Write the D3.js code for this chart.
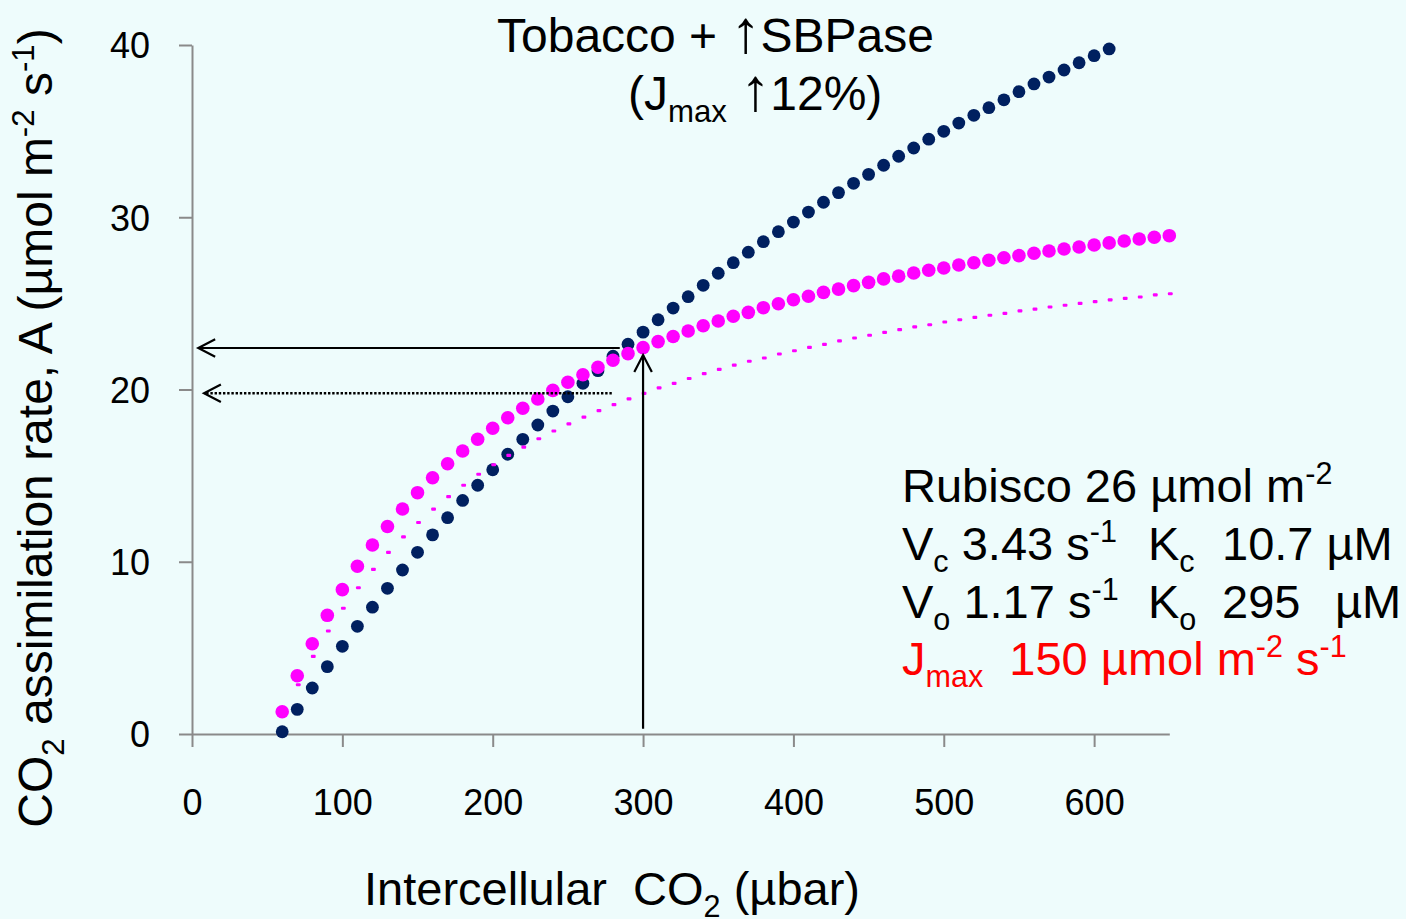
<!DOCTYPE html>
<html>
<head>
<meta charset="utf-8">
<script src="https://cdn.jsdelivr.net/npm/d3@7"></script>
<style>
  html, body { margin: 0; padding: 0; background: #eefcfc; }
  svg { display: block; }
  text { font-family: "Liberation Sans", Arial, sans-serif; white-space: pre; }
</style>
</head>
<body>
<svg id="chart" width="1406" height="919"></svg>
<script>
// ---------- DATA ----------
const ciNavy = [60,70,80,90,100,110,120,130,140,150,160,170,180,190,200,210,220,230,240,250,260,270,280,290,300,310,320,330,340,350,360,370,380,390,400,410,420,430,440,450,460,470,480,490,500,510,520,530,540,550,560,570,580,590,600,610];
const aNavy = [0.13,1.43,2.67,3.91,5.09,6.25,7.36,8.46,9.52,10.55,11.56,12.56,13.56,14.44,15.34,16.24,17.11,17.94,18.75,19.58,20.36,21.09,21.93,22.63,23.33,24.05,24.73,25.39,26.05,26.75,27.36,27.97,28.58,29.16,29.72,30.30,30.87,31.43,31.97,32.49,33.02,33.54,34.02,34.53,34.99,35.47,35.92,36.36,36.82,37.29,37.74,38.14,38.55,38.97,39.38,39.77];

const ciMagenta = [60,70,80,90,100,110,120,130,140,150,160,170,180,190,200,210,220,230,240,250,260,270,280,290,300,310,320,330,340,350,360,370,380,390,400,410,420,430,440,450,460,470,480,490,500,510,520,530,540,550,560,570,580,590,600,610,620,630,640,650];
const aMagenta = [1.29,3.38,5.24,6.89,8.38,9.74,10.97,12.05,13.06,14.01,14.88,15.69,16.43,17.11,17.75,18.36,18.91,19.45,19.95,20.42,20.86,21.29,21.70,22.08,22.43,22.78,23.08,23.40,23.70,23.98,24.25,24.48,24.75,24.98,25.21,25.41,25.64,25.83,26.03,26.22,26.42,26.58,26.76,26.92,27.05,27.23,27.36,27.50,27.65,27.77,27.91,28.04,28.16,28.27,28.39,28.51,28.62,28.74,28.84,28.93];

const ciBase = [70,80,90,100,110,120,130,140,150,160,170,180,190,200,210,220,230,240,250,260,270,280,290,300,310,320,330,340,350,360,370,380,390,400,410,420,430,440,450,460,470,480,490,500,510,520,530,540,550,560,570,580,590,600,610,620,630,640,650];
const aBase = [2.86,4.51,5.98,7.30,8.49,9.56,10.54,11.44,12.28,13.06,13.78,14.44,15.08,15.63,16.18,16.66,17.14,17.59,18.00,18.40,18.77,19.12,19.45,19.78,20.09,20.36,20.64,20.92,21.17,21.41,21.64,21.83,22.06,22.25,22.45,22.62,22.82,22.99,23.15,23.32,23.48,23.63,23.76,23.92,24.05,24.19,24.31,24.42,24.56,24.67,24.79,24.89,25.00,25.10,25.20,25.29,25.37,25.49,25.56];

const xTicks = [0,100,200,300,400,500,600];
const yTicks = [0,10,20,30,40];

// annotation arrows (data units): [x1,y1,x2(tip),y2(tip)]
const arrowSolidH = [284.5, 22.41, 4.2, 22.41];
const arrowDottedH = [279.2, 19.78, 8.0, 19.78];
const arrowVert = [300, 0.3, 300, 22.0];

// ---------- SETUP ----------
const svg = d3.select("#chart");
const W = 1406, H = 919;
svg.append("rect").attr("width", W).attr("height", H).attr("fill", "#eefcfc");

const x = d3.scaleLinear().domain([0, 650]).range([192, 1169.3]);
const y = d3.scaleLinear().domain([0, 40]).range([734, 45]);

const axisCol = "#8a8a8a";

// x axis
const gx = svg.append("g").attr("transform", `translate(0,${y(0)})`)
  .call(d3.axisBottom(x).tickValues(xTicks).tickSize(13).tickSizeOuter(0).tickFormat(d3.format("d")));
gx.select(".domain").attr("stroke", axisCol).attr("stroke-width", 2);
gx.selectAll(".tick line").attr("stroke", axisCol).attr("stroke-width", 2);
gx.selectAll(".tick text").attr("y", 81).attr("dy", 0).attr("font-size", 36)
  .attr("font-family", '"Liberation Sans", Arial, sans-serif').attr("fill", "#000");

// y axis
const gy = svg.append("g").attr("transform", `translate(${x(0)},0)`)
  .call(d3.axisLeft(y).tickValues(yTicks).tickSize(13).tickSizeOuter(0));
gy.select(".domain").attr("stroke", axisCol).attr("stroke-width", 2);
gy.selectAll(".tick line").attr("stroke", axisCol).attr("stroke-width", 2);
gy.selectAll(".tick text").attr("x", -42).attr("dy", "0.36em").attr("font-size", 36)
  .attr("font-family", '"Liberation Sans", Arial, sans-serif').attr("fill", "#000");

// ---------- SERIES ----------
const navy = "#002060", mag = "#ff00ff";
svg.append("g").selectAll("circle").data(ciNavy).join("circle")
  .attr("cx", (d) => x(d)).attr("cy", (d, i) => y(aNavy[i])).attr("r", 6.4).attr("fill", navy);
svg.append("g").selectAll("circle").data(ciMagenta).join("circle")
  .attr("cx", (d) => x(d)).attr("cy", (d, i) => y(aMagenta[i])).attr("r", 6.8).attr("fill", mag);
svg.append("g").selectAll("rect").data(ciBase).join("rect")
  .attr("x", (d) => x(d) + 1 - 2.4).attr("y", (d, i) => y(aBase[i]) - 1.6)
  .attr("width", 4.8).attr("height", 3.2).attr("rx", 1).attr("fill", mag);

// ---------- ARROWS ----------
function arrow(a, dashed) {
  const x1 = x(a[0]), y1 = y(a[1]), x2 = x(a[2]), y2 = y(a[3]);
  const g = svg.append("g").attr("stroke", "#000").attr("fill", "none");
  g.append("line").attr("x1", x1).attr("y1", y1).attr("x2", x2).attr("y2", y2)
    .attr("stroke-width", dashed ? 2.6 : 2.2)
    .attr("stroke-dasharray", dashed ? "2.4,1.8" : null);
  const ang = Math.atan2(y1 - y2, x1 - x2);
  const L = 19, spread = 0.48;
  const p1 = [x2 + L * Math.cos(ang + spread), y2 + L * Math.sin(ang + spread)];
  const p2 = [x2 + L * Math.cos(ang - spread), y2 + L * Math.sin(ang - spread)];
  g.append("path").attr("stroke-width", 2.2)
    .attr("d", `M${p1[0]},${p1[1]} L${x2},${y2} L${p2[0]},${p2[1]}`);
}
arrow(arrowSolidH, false);
arrow(arrowDottedH, true);
arrow(arrowVert, false);

// ---------- TEXT ----------
// rich text using relative dy shifts (keeps one anchored chunk)
function rich(parent, xp, yp, size, segs, color, anchor) {
  const t = parent.append("text").attr("x", xp).attr("y", yp).attr("font-size", size)
    .attr("fill", color || "#000").attr("text-anchor", anchor || "start");
  let off = 0;
  segs.forEach((s) => {
    const ts = t.append("tspan").text(s.t);
    let target = 0;
    if (s.k === "sub") { ts.attr("font-size", size * 0.65); target = size * 0.25; }
    else if (s.k === "sup") { ts.attr("font-size", size * 0.65); target = -size * 0.38; }
    if (s.fs) ts.attr("font-size", s.fs);
    if (s.x != null) { ts.attr("x", s.x).attr("y", yp + target); }
    else ts.attr("dy", target - off);
    off = target;
  });
  return t;
}

// title
rich(svg, 497, 52, 48, [{ t: "Tobacco + " }, { t: "↑", fs: 60 }, { t: "SBPase" }]);
rich(svg, 628, 110, 48, [{ t: "(J" }, { t: "max", k: "sub" }, { t: " " }, { t: "↑", fs: 60 }, { t: "12%)" }]);

// parameter block
const fs = 47;
rich(svg, 902, 502, fs, [{ t: "Rubisco 26 µmol m" }, { t: "-2", k: "sup" }]);
rich(svg, 902, 560, fs, [{ t: "V" }, { t: "c", k: "sub" }, { t: " 3.43 s" }, { t: "-1", k: "sup" },
  { t: "K", x: 1148 }, { t: "c", k: "sub" }, { t: "10.7 µM", x: 1222 }]);
rich(svg, 902, 618, fs, [{ t: "V" }, { t: "o", k: "sub" }, { t: " 1.17 s" }, { t: "-1", k: "sup" },
  { t: "K", x: 1148 }, { t: "o", k: "sub" }, { t: "295", x: 1222 }, { t: "µM", x: 1335 }]);
rich(svg, 902, 675, fs, [{ t: "J" }, { t: "max", k: "sub" }, { t: "  150 µmol m" }, { t: "-2", k: "sup" },
  { t: " s" }, { t: "-1", k: "sup" }], "#ff0000");

// x axis title
rich(svg, 612, 905, 47, [{ t: "Intercellular  CO" }, { t: "2", k: "sub" }, { t: " (µbar)" }], "#000", "middle");

// y axis title (rotated)
const yg = svg.append("g").attr("transform", "translate(52,428) rotate(-90)");
rich(yg, 0, 0, 48, [{ t: "CO" }, { t: "2", k: "sub" }, { t: " assimilation rate, A (µmol m" },
  { t: "-2", k: "sup" }, { t: " s" }, { t: "-1", k: "sup" }, { t: ")" }], "#000", "middle");
</script>
</body>
</html>
